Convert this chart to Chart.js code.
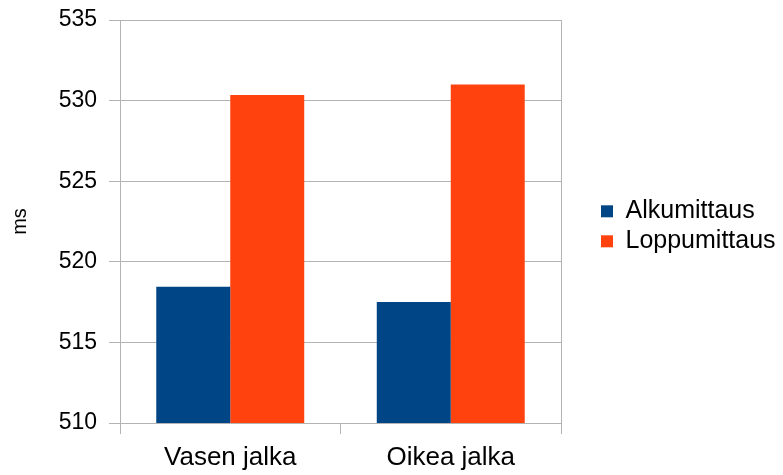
<!DOCTYPE html>
<html>
<head>
<meta charset="utf-8">
<script src="https://cdn.jsdelivr.net/npm/chart.js@4/dist/chart.umd.min.js"></script>
<style>
    html, body { margin: 0; padding: 0; background: #fff; }
    #wrap { width: 783px; height: 475px; }
</style>
</head>
<body>
<div id="wrap"><canvas id="grafica"></canvas></div>
<script>
const jalat = ['Vasen jalka', 'Oikea jalka'];
const alkumittaus = [518.45, 517.5];
const loppumittaus = [530.35, 531.0];

const viivaVari = '#b3b3b3';
const fontti = 'Liberation Sans, Arial, sans-serif';

const ctx = document.getElementById('grafica').getContext('2d');
const chart = new Chart(ctx, {
    type: 'bar',
    data: {
        labels: jalat,
        datasets: [
            {
                label: 'Alkumittaus',
                data: alkumittaus,
                backgroundColor: '#004586',
                yAxisID: 'y'
            },
            {
                label: 'Loppumittaus',
                data: loppumittaus,
                backgroundColor: '#ff420e',
                yAxisID: 'y'
            }
        ]
    },
    options: {
        responsive: true,
        maintainAspectRatio: false,
        animation: false,
        categoryPercentage: 0.671,
        barPercentage: 1,
        layout: { padding: { top: 20, right: 0, left: 0, bottom: 0 } },
        plugins: {
            tooltip: { enabled: false },
            legend: {
                position: 'right',
                fullSize: false,
                maxWidth: 187,
                title: { display: true, text: ' ', font: { size: 8 }, padding: 0 },
                labels: {
                    font: { family: fontti, size: 25 },
                    color: '#000',
                    boxWidth: 12,
                    boxHeight: 12,
                    padding: 5
                }
            }
        },
        scales: {
            x: {
                offset: true,
                grid: {
                    offset: true,
                    color: c => c.index === 1 ? 'rgba(0,0,0,0)' : viivaVari,
                    tickColor: viivaVari,
                    tickLength: 11
                },
                border: { color: viivaVari },
                ticks: {
                    font: { family: fontti, size: 26 },
                    color: '#000',
                    padding: 8
                },
                afterFit: s => { s.height = 52; }
            },
            y: {
                min: 510,
                max: 535,
                ticks: {
                    stepSize: 5,
                    font: { family: fontti, size: 23 },
                    color: '#000',
                    padding: 12
                },
                grid: {
                    color: viivaVari,
                    tickColor: viivaVari,
                    tickLength: 11
                },
                border: { color: viivaVari },
                title: {
                    display: true,
                    text: 'ms',
                    font: { family: fontti, size: 20 },
                    color: '#000',
                    padding: { top: 8, bottom: 0 }
                },
                afterFit: s => {
                    s.width = 120;
                    s.paddingTop = 0;
                    s.paddingBottom = 0;
                }
            },
            // tyhjä akseli: väli piirtoalueen ja selitteen välissä
            vali: {
                position: 'right',
                display: true,
                grid: { display: false },
                border: { display: false },
                ticks: { display: false },
                afterFit: s => { s.width = 35; }
            }
        }
    }
});
</script>
</body>
</html>
